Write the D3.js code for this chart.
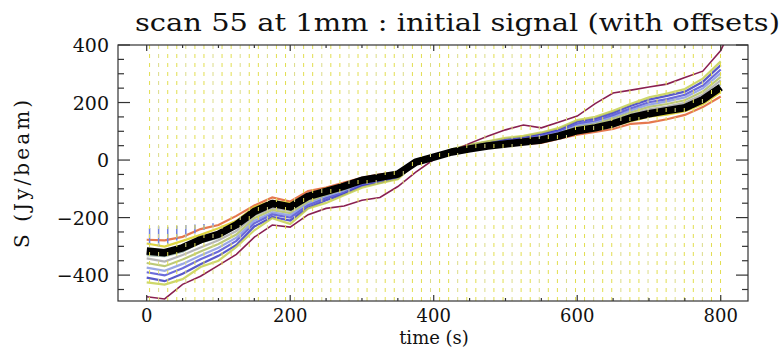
<!DOCTYPE html>
<html><head><meta charset="utf-8">
<script src="https://cdn.jsdelivr.net/npm/d3@7"></script>
<style>body{margin:0;background:#fff}</style>
</head><body>
<svg id="chart" width="784" height="350"></svg>
<script>
// ---- data ----
const times = [0,25,50,75,100,125,150,175,200,225,250,275,300,325,350,375,400,425,450,475,500,525,550,575,600,625,650,675,700,725,750,775,800];
const meanSignal = [-316,-322,-305,-277,-258,-225,-179,-151,-163,-126,-109,-91,-70,-60,-49,-7,10,28,39,49,56,63,70,84,102,112,126,147,161,172,182,210,253];
const det1 = [-277,-279,-267,-240,-226,-194,-158,-130,-144,-108,-96,-78,-62,-50,-44,-5,8,25,33,44,48,56,60,74,88,98,108,126,130,142,157,184,221];
const det2 = [-290,-301,-281,-260,-237,-211,-163,-142,-150,-119,-99,-86,-63,-57,-44,-8,10,25,37,45,53,58,66,77,96,103,118,135,151,158,170,194,236];
const det3 = [-331,-334,-319,-286,-270,-232,-188,-156,-171,-130,-115,-94,-74,-61,-52,-6,11,28,42,50,59,65,74,86,107,115,132,152,168,178,190,217,264];
const det4 = [-342,-353,-330,-304,-279,-247,-193,-167,-176,-139,-117,-100,-75,-66,-52,-9,12,30,44,52,62,68,77,91,112,121,138,159,176,186,199,228,277];
const det5 = [-358,-369,-346,-318,-292,-259,-202,-174,-184,-146,-122,-105,-79,-69,-55,-9,12,31,45,55,65,71,81,95,117,127,145,166,185,195,208,238,289];
const det6 = [-374,-385,-361,-332,-305,-270,-211,-182,-192,-152,-128,-109,-82,-72,-57,-9,13,32,47,57,68,74,84,99,122,132,151,173,193,204,218,249,302];
const det7 = [-390,-401,-376,-345,-318,-281,-220,-189,-200,-158,-133,-114,-86,-75,-60,-10,13,34,49,60,70,77,88,103,127,138,157,180,201,212,227,259,315];
const det8 = [-409,-421,-395,-362,-333,-295,-231,-198,-210,-166,-140,-119,-90,-79,-63,-10,14,35,52,63,74,81,92,108,134,145,165,189,210,223,238,272,330];
const det9 = [-425,-433,-414,-372,-350,-302,-244,-202,-222,-168,-149,-122,-96,-80,-67,-10,15,37,54,65,77,84,96,112,139,150,171,196,218,231,247,283,343];
const outlierTimes = [0,25,50,75,100,125,150,175,200,225,250,275,300,325,350,375,400,425,450,475,500,525,550,575,600,625,650,675,700,725,750,775,800,806];
const outlier = [-475,-483,-432,-404,-366,-328,-268,-226,-233,-190,-168,-160,-140,-130,-92,-42,2,30,58,83,105,122,112,132,153,196,233,243,254,264,287,309,381,412];
const spikeTimes = [4,16.6,29.3,41.9,54.5,67.2,79.8,92.4];
const spikeLow = [-292,-300,-292,-280,-268,-255,-242,-232];
const spikeHigh = [-236,-230,-232,-228,-226,-224,-222,-220];
const subscanTimes = [4,16.6,29.3,41.9,54.5,67.2,79.8,92.4,105.0,117.7,130.3,142.9,155.6,168.2,180.8,193.5,206.1,218.7,231.3,244.0,256.6,269.2,281.9,294.5,307.1,319.8,332.4,345.0,357.6,370.3,382.9,395.5,408.2,420.8,433.4,446.1,458.7,471.3,483.9,496.6,509.2,521.8,534.5,547.1,559.7,572.4,585.0,597.6,610.2,622.9,635.5,648.1,660.8,673.4,686.0,698.7,711.3,723.9,736.5,749.2,761.8,774.4,787.1,799.7];
const xTicks = [0,200,400,600,800];
const yTicks = [-400,-200,0,200,400];
const detectors = [det1,det2,det3,det4,det5,det6,det7,det8,det9];
const detColors = ["#e06030","#d8cc20","#90aaa0","#a8a8a8","#b0c060","#8898e0","#5252d4","#3c3cc0","#c4d050"];

// ---- layout ----
const svg = d3.select("#chart");
const L = 118, R = 748, T = 45, B = 301;
const x = d3.scaleLinear().domain([-40, 838]).range([L, R]);
const y = d3.scaleLinear().domain([-490, 400]).range([B, T]);
const font = "'DejaVu Serif', 'Liberation Serif', serif";

svg.append("defs").append("clipPath").attr("id","clip")
  .append("rect").attr("x",L).attr("y",T).attr("width",R-L).attr("height",B-T);
const g = svg.append("g").attr("clip-path","url(#clip)");

const line = d3.line().x((d,i)=>x(times[i])).y(d=>y(d));
detectors.forEach((vals,k)=>{
  g.append("path").attr("d", line(vals)).attr("fill","none")
   .attr("stroke", detColors[k]).attr("stroke-width",2.2).attr("stroke-opacity",0.85);
});
g.selectAll("line.spike").data(spikeTimes).enter().append("line")
  .attr("x1",d=>x(d)).attr("x2",d=>x(d))
  .attr("y1",(d,i)=>y(spikeLow[i])).attr("y2",(d,i)=>y(spikeHigh[i]))
  .attr("stroke","#7080e0").attr("stroke-width",1.5);
const line2 = d3.line().x((d,i)=>x(outlierTimes[i])).y(d=>y(d));
g.append("path").attr("d", line2(outlier)).attr("fill","none")
  .attr("stroke","#8a2050").attr("stroke-width",1.6);
g.append("path").attr("d", line(meanSignal)).attr("fill","none")
  .attr("stroke","#000").attr("stroke-width",7.5).attr("stroke-linejoin","round");
g.selectAll("line.sub").data(subscanTimes).enter().append("line")
  .attr("x1",d=>x(d)).attr("x2",d=>x(d)).attr("y1",T).attr("y2",B)
  .attr("stroke",(d,i)=> i%3===1 ? "#dcdc88" : "#e2de50").attr("stroke-width",1)
  .attr("stroke-dasharray","4,5");

// ---- frame & ticks ----
const ax = svg.append("g").attr("stroke","#333").attr("stroke-width",1.2);
ax.append("rect").attr("x",L).attr("y",T).attr("width",R-L).attr("height",B-T).attr("fill","none");
const xMinor = d3.range(0, 839, 50);
xMinor.forEach(v=>{
  const len = (v%200===0) ? 6 : 3;
  ax.append("line").attr("x1",x(v)).attr("x2",x(v)).attr("y1",B).attr("y2",B-len);
  ax.append("line").attr("x1",x(v)).attr("x2",x(v)).attr("y1",T).attr("y2",T+len);
});
const yMinor = d3.range(-450, 401, 50);
yMinor.forEach(v=>{
  const len = (v%200===0) ? 12 : 6;
  ax.append("line").attr("x1",L).attr("x2",L+len).attr("y1",y(v)).attr("y2",y(v));
  ax.append("line").attr("x1",R).attr("x2",R-len).attr("y1",y(v)).attr("y2",y(v));
});

svg.selectAll("text.xt").data(xTicks).enter().append("text")
  .attr("x",d=>x(d)).attr("y",322).attr("text-anchor","middle")
  .attr("font-family",font).attr("font-size",18).attr("fill","#111").text(d=>d);
svg.selectAll("text.yt").data(yTicks).enter().append("text")
  .attr("x",109).attr("y",d=>y(d)+7).attr("text-anchor","end")
  .attr("font-family",font).attr("font-size",19).attr("fill","#111")
  .text(d=> d<0 ? "\u2212"+Math.abs(d) : d);
svg.append("text").attr("x",434).attr("y",344).attr("text-anchor","middle")
  .attr("font-family",font).attr("font-size",18).attr("fill","#111").text("time (s)");
svg.append("text").attr("transform","translate(29,174) rotate(-90)").attr("text-anchor","middle")
  .attr("textLength",148).attr("lengthAdjust","spacing")
  .attr("font-family",font).attr("font-size",20).attr("fill","#111").text("S (Jy/beam)");
svg.append("text").attr("x",135).attr("y",31).attr("textLength",645).attr("lengthAdjust","spacingAndGlyphs")
  .attr("font-family",font).attr("font-size",25).attr("fill","#111")
  .text("scan 55 at 1mm : initial signal (with offsets)");
</script>
</body></html>
